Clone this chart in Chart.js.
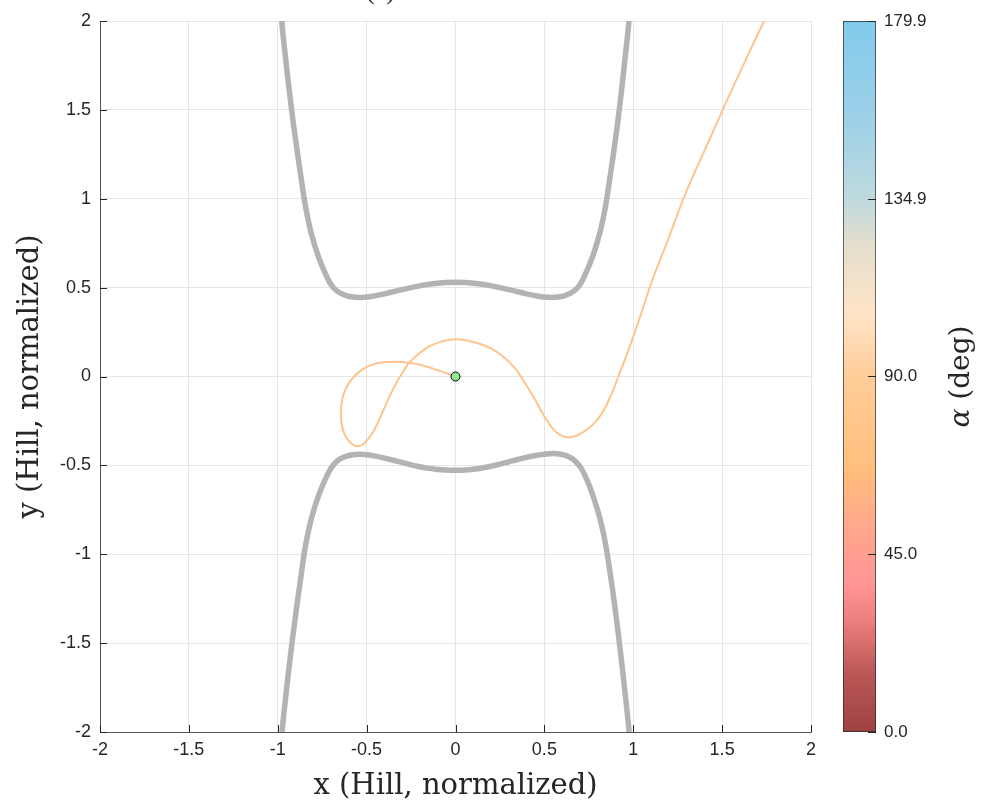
<!DOCTYPE html>
<html>
<head>
<meta charset="utf-8">
<title>Hill trajectory</title>
<script src="https://cdn.jsdelivr.net/npm/chart.js@4.4.1/dist/chart.umd.min.js"></script>
<style>
  body { margin: 0; background: #fff; }
  #wrap { position: relative; width: 982px; height: 808px; overflow: hidden; background: #fff; }
  #main { position: absolute; left: 0; top: 0; }
  #cbar { position: absolute; left: 830px; top: 0; }
  #panel { position: absolute; left: 366px; top: -22px; font: 26px "Liberation Serif", serif; line-height: 26px; color: #262626; }
</style>
</head>
<body>
<div id="wrap">
  <div id="panel">(c)</div>
  <canvas id="main" width="830" height="808"></canvas>
  <canvas id="cbar" width="152" height="808"></canvas>
</div>
<script>
"use strict";

// axis ticks
const xTicks = [-2, -1.5, -1, -0.5, 0, 0.5, 1, 1.5, 2];
const yTicks = [-2, -1.5, -1, -0.5, 0, 0.5, 1, 1.5, 2];
const alphaTicks = [0, 45, 90, 134.9, 179.9];
const alphaRange = [0, 179.9];

// zero velocity curve, upper branch (left to right)
const zvcTopX = [-0.978, -0.968, -0.957, -0.946, -0.934, -0.922, -0.909, -0.895, -0.881, -0.866, -0.851,
  -0.833, -0.810, -0.780, -0.754, -0.728, -0.705, -0.680, -0.650, -0.615, -0.577, -0.537, -0.50, -0.45,
  -0.40, -0.35, -0.30, -0.25, -0.20, -0.15, -0.10, -0.05, 0,
  0.05, 0.10, 0.15, 0.20, 0.25, 0.30, 0.35, 0.40, 0.45, 0.50, 0.537, 0.577, 0.615, 0.650, 0.680, 0.705,
  0.728, 0.754, 0.780, 0.810, 0.833, 0.851, 0.866, 0.881, 0.895, 0.909, 0.921, 0.933, 0.944, 0.955, 0.966, 0.976];
const zvcTopY = [2.0, 1.9, 1.8, 1.7, 1.6, 1.5, 1.4, 1.3, 1.2, 1.1, 1.0,
  0.9, 0.8, 0.7, 0.63, 0.57, 0.525, 0.493, 0.47, 0.455, 0.447, 0.445, 0.447, 0.455,
  0.465, 0.477, 0.489, 0.5, 0.51, 0.519, 0.525, 0.529, 0.53,
  0.529, 0.525, 0.519, 0.51, 0.5, 0.489, 0.477, 0.465, 0.455, 0.447, 0.445, 0.447, 0.455, 0.47, 0.493, 0.525,
  0.57, 0.63, 0.7, 0.8, 0.9, 1.0, 1.1, 1.2, 1.3, 1.4, 1.5, 1.6, 1.7, 1.8, 1.9, 2.0];

// zero velocity curve, lower branch (left to right)
const zvcBotX = [-0.976, -0.966, -0.955, -0.944, -0.932, -0.920, -0.907, -0.894, -0.880, -0.866, -0.852,
  -0.834, -0.811, -0.781, -0.755, -0.729, -0.706, -0.681, -0.652, -0.617, -0.578, -0.540, -0.50, -0.45,
  -0.40, -0.35, -0.30, -0.25, -0.20, -0.15, -0.10, -0.05, 0,
  0.05, 0.10, 0.15, 0.20, 0.25, 0.30, 0.35, 0.40, 0.45, 0.50, 0.547, 0.585, 0.622, 0.656, 0.685, 0.709,
  0.732, 0.757, 0.783, 0.813, 0.836, 0.854, 0.869, 0.884, 0.897, 0.910, 0.922, 0.934, 0.945, 0.956, 0.967, 0.977];
const zvcBotY = [-2.0, -1.9, -1.8, -1.7, -1.6, -1.5, -1.4, -1.3, -1.2, -1.1, -1.0,
  -0.9, -0.8, -0.7, -0.63, -0.57, -0.525, -0.49, -0.465, -0.449, -0.44, -0.437, -0.44, -0.448,
  -0.459, -0.471, -0.484, -0.497, -0.508, -0.517, -0.523, -0.526, -0.527,
  -0.526, -0.522, -0.515, -0.505, -0.493, -0.48, -0.467, -0.455, -0.444, -0.437, -0.433, -0.436, -0.445, -0.462, -0.487, -0.52,
  -0.565, -0.625, -0.7, -0.8, -0.9, -1.0, -1.1, -1.2, -1.3, -1.4, -1.5, -1.6, -1.7, -1.8, -1.9, -2.0];

// trajectory, starting from the initial point
const trajX = [0, -0.05, -0.1, -0.15, -0.2, -0.265, -0.33, -0.39, -0.443, -0.495, -0.537, -0.575, -0.608,
  -0.63, -0.642, -0.645, -0.638, -0.62, -0.59, -0.556, -0.525, -0.495, -0.462, -0.435, -0.406, -0.37,
  -0.331, -0.296, -0.26, -0.2, -0.143, -0.07, 0.007, 0.08, 0.156, 0.21, 0.26, 0.305, 0.344, 0.39, 0.438,
  0.478, 0.513, 0.545, 0.585, 0.626, 0.67, 0.71, 0.75, 0.785, 0.813, 0.845, 0.87, 0.895, 0.916, 0.94, 0.96,
  0.98, 1.0, 1.05, 1.094, 1.14, 1.188, 1.235, 1.282, 1.337, 1.394, 1.45, 1.503, 1.56, 1.619, 1.677, 1.736];
const trajY = [0, 0.018, 0.035, 0.052, 0.066, 0.078, 0.083, 0.081, 0.074, 0.056, 0.03, -0.005, -0.05,
  -0.1, -0.16, -0.22, -0.28, -0.333, -0.374, -0.392, -0.385, -0.357, -0.31, -0.255, -0.19, -0.11,
  -0.032, 0.025, 0.078, 0.133, 0.172, 0.199, 0.209, 0.2, 0.177, 0.152, 0.118, 0.078, 0.035, -0.035, -0.114,
  -0.185, -0.245, -0.29, -0.327, -0.342, -0.337, -0.318, -0.29, -0.258, -0.223, -0.17, -0.115, -0.058, 0.0, 0.06, 0.113,
  0.168, 0.225, 0.37, 0.505, 0.628, 0.749, 0.875, 1.0, 1.13, 1.256, 1.38, 1.5, 1.625, 1.752, 1.876, 2.0];

const startX = [0];
const startY = [0];

// colormap for alpha, bottom (0 deg) to top (179.9 deg)
const cmapStops = [
  [0.00, "rgb(158,66,66)"],
  [0.08, "rgb(186,86,86)"],
  [0.16, "rgb(238,128,128)"],
  [0.21, "rgb(255,150,150)"],
  [0.27, "rgb(255,162,142)"],
  [0.37, "rgb(255,190,125)"],
  [0.50, "rgb(255,205,152)"],
  [0.59, "rgb(255,228,200)"],
  [0.69, "rgb(226,222,205)"],
  [0.75, "rgb(190,218,222)"],
  [0.87, "rgb(155,208,232)"],
  [1.00, "rgb(130,202,236)"]
];

const TEXT = "#262626";
const TICK_FONT = { family: "'Liberation Sans', Arial, sans-serif", size: 18 };
const LABEL_SIZE = 28;
const LABEL_FONT = { family: "'DejaVu Serif', serif", size: LABEL_SIZE };

function pts(xs, ys) {
  return xs.map((x, i) => ({ x: x, y: ys[i] }));
}

function fixedTicks(values) {
  return function(scale) {
    scale.ticks = values.map(v => ({ value: v }));
  };
}

// small tick marks drawn inward from the left and bottom axes
const inwardTicks = {
  id: "inwardTicks",
  afterDraw(chart) {
    const { ctx, chartArea: a, scales } = chart;
    ctx.save();
    ctx.strokeStyle = TEXT;
    ctx.lineWidth = 1;
    ctx.beginPath();
    scales.x.ticks.forEach(t => {
      const px = Math.round(scales.x.getPixelForValue(t.value)) + 0.5;
      ctx.moveTo(px, a.bottom);
      ctx.lineTo(px, a.bottom - 7);
    });
    scales.y.ticks.forEach(t => {
      const py = Math.round(scales.y.getPixelForValue(t.value)) + 0.5;
      ctx.moveTo(a.left, py);
      ctx.lineTo(a.left + 7, py);
    });
    ctx.stroke();
    ctx.restore();
  }
};

new Chart(document.getElementById("main"), {
  type: "scatter",
  data: {
    datasets: [
      {
        data: pts(startX, startY),
        pointRadius: 4.5,
        pointBackgroundColor: "#90ee90",
        pointBorderColor: "#000",
        pointBorderWidth: 1,
        order: 0
      },
      {
        data: pts(trajX, trajY),
        showLine: true,
        borderColor: "rgb(255,196,140)",
        borderWidth: 2,
        pointRadius: 0,
        tension: 0.4,
        order: 1
      },
      {
        data: pts(zvcTopX, zvcTopY),
        showLine: true,
        borderColor: "#b3b3b3",
        borderWidth: 5.5,
        pointRadius: 0,
        tension: 0.4,
        order: 2
      },
      {
        data: pts(zvcBotX, zvcBotY),
        showLine: true,
        borderColor: "#b3b3b3",
        borderWidth: 5.5,
        pointRadius: 0,
        tension: 0.4,
        order: 2
      }
    ]
  },
  options: {
    responsive: false,
    animation: false,
    layout: { padding: { top: 21, right: 19, bottom: 0, left: 0 } },
    plugins: { legend: { display: false }, tooltip: { enabled: false } },
    scales: {
      x: {
        type: "linear",
        min: -2,
        max: 2,
        afterBuildTicks: fixedTicks(xTicks),
        afterFit: s => { s.height = 76; },
        grid: { color: "#e6e6e6", drawTicks: false },
        border: { display: true, color: "#555", width: 1 },
        ticks: { color: TEXT, font: TICK_FONT, padding: 7, maxRotation: 0, callback: v => String(v) },
        title: { display: true, text: "x (Hill, normalized)", color: TEXT, font: { family: LABEL_FONT.family, size: 29 }, padding: { bottom: 4 } }
      },
      y: {
        type: "linear",
        min: -2,
        max: 2,
        afterBuildTicks: fixedTicks(yTicks),
        afterFit: s => { s.width = 100; },
        grid: { color: "#e6e6e6", drawTicks: false },
        border: { display: true, color: "#555", width: 1 },
        ticks: { color: TEXT, font: TICK_FONT, padding: 9, callback: v => String(v) },
        title: { display: true, text: "y (Hill, normalized)", color: TEXT, font: { family: LABEL_FONT.family, size: 29 }, padding: { top: 13 } }
      }
    }
  },
  plugins: [inwardTicks]
});

// vertical gradient for the colorbar
function colorbarFill(chart) {
  const a = chart.chartArea;
  if (!a) return cmapStops[0][1];
  const g = chart.ctx.createLinearGradient(0, a.bottom, 0, a.top);
  cmapStops.forEach(s => g.addColorStop(s[0], s[1]));
  return g;
}

// inward ticks on the colorbar and its rotated label
const colorbarDecor = {
  id: "colorbarDecor",
  afterDraw(chart) {
    const { ctx, chartArea: a, scales } = chart;
    ctx.save();
    ctx.strokeStyle = TEXT;
    ctx.lineWidth = 1;
    ctx.beginPath();
    scales.y.ticks.forEach(t => {
      const py = Math.round(scales.y.getPixelForValue(t.value)) + 0.5;
      ctx.moveTo(a.right, py);
      ctx.lineTo(a.right - 8, py);
    });
    ctx.stroke();

    const cx = 132;
    const cy = (a.top + a.bottom) / 2;
    ctx.translate(cx, cy);
    ctx.rotate(-Math.PI / 2);
    ctx.fillStyle = TEXT;
    ctx.textBaseline = "middle";
    const greek = "\u03b1";
    const rest = " (deg)";
    const italic = "italic " + LABEL_SIZE + "px 'DejaVu Serif', serif";
    const upright = LABEL_SIZE + "px 'DejaVu Serif', serif";
    ctx.font = italic;
    const w1 = ctx.measureText(greek).width;
    ctx.font = upright;
    const w2 = ctx.measureText(rest).width;
    const x0 = -(w1 + w2) / 2;
    ctx.font = italic;
    ctx.fillText(greek, x0, 0);
    ctx.font = upright;
    ctx.fillText(rest, x0 + w1, 0);
    ctx.restore();
  }
};

new Chart(document.getElementById("cbar"), {
  type: "bar",
  data: {
    labels: [""],
    datasets: [{
      data: [alphaRange],
      backgroundColor: c => colorbarFill(c.chart),
      borderColor: TEXT,
      borderWidth: 1,
      borderSkipped: false,
      barPercentage: 1,
      categoryPercentage: 1
    }]
  },
  options: {
    responsive: false,
    animation: false,
    layout: { padding: { top: 21, right: 0, bottom: 76, left: 13 } },
    plugins: { legend: { display: false }, tooltip: { enabled: false } },
    scales: {
      x: { display: false },
      y: {
        position: "right",
        min: alphaRange[0],
        max: alphaRange[1],
        afterBuildTicks: fixedTicks(alphaTicks),
        afterFit: s => { s.width = 106; },
        grid: { display: false, drawTicks: false },
        border: { display: false },
        ticks: { color: TEXT, font: { family: TICK_FONT.family, size: 17 }, padding: 8, callback: v => v.toFixed(1) }
      }
    }
  },
  plugins: [colorbarDecor]
});
</script>
</body>
</html>
